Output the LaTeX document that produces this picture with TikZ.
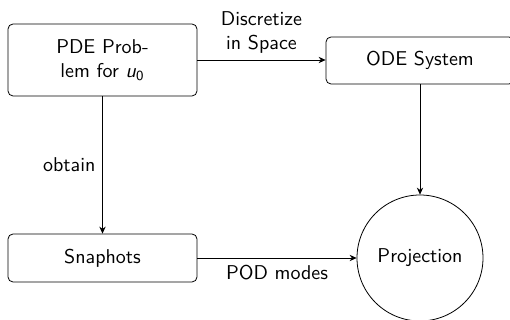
\documentclass[tikz,border=0pt]{standalone}
\usetikzlibrary{arrows.meta}
\begin{document}
\begin{tikzpicture}[x=0.5pt,y=-0.5pt,
  font=\sffamily,
  box/.style={draw, rounded corners=2.5pt, minimum width=94.5pt, align=center, inner sep=0pt},
  circ/.style={draw, circle, minimum size=63pt, inner sep=0pt},
  arr/.style={-{Stealth[length=3.5pt,width=3.2pt]}}]
\useasboundingbox (0,0) rectangle (510,320);
\node[box, minimum height=36pt] (pde) at (102.5,60) {PDE Prob-\\lem for \textit{u}\textsubscript{0}};
\node[box, minimum height=23.5pt, minimum width=94pt] (ode) at (420,60.5) {ODE System};
\node[box, minimum height=24pt] (snap) at (102.5,258) {Snaphots};
\node[circ] (proj) at (420,258) {Projection};
\draw[arr] (pde.east) -- node[above, align=center] {Discretize\\in Space} (ode.west |- pde.east);
\draw[arr] (pde.south) -- node[left] {obtain} (snap.north);
\draw[arr] (ode.south) -- (proj.north);
\draw[arr] (snap.east) -- node[below] {POD modes} (proj.west);
\end{tikzpicture}
\end{document}
